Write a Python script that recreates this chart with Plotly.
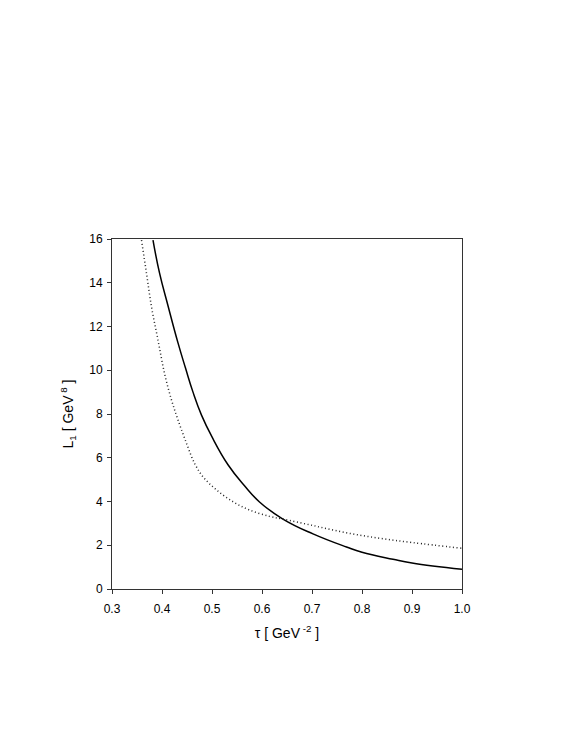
import plotly.graph_objects as go

# values
tau_solid = [0.382, 0.395, 0.412, 0.432, 0.447, 0.462, 0.479, 0.50, 0.532,
             0.565, 0.595, 0.641, 0.702, 0.769, 0.80, 0.862, 0.90, 1.00]
l1_solid = [15.95, 14.45, 12.95, 11.25, 10.1, 9.0, 7.95, 6.95, 5.68,
            4.72, 3.98, 3.21, 2.52, 1.92, 1.68, 1.36, 1.19, 0.90]

tau_dotted = [0.359, 0.369, 0.379, 0.392, 0.405, 0.419, 0.432, 0.449, 0.465,
              0.482, 0.509, 0.542, 0.575, 0.615, 0.641, 0.702, 0.769, 0.835,
              0.902, 1.00]
l1_dotted = [15.95, 14.43, 12.9, 11.38, 9.86, 8.64, 7.73, 6.66, 5.75,
             5.13, 4.53, 3.99, 3.61, 3.32, 3.2, 2.90, 2.57, 2.32,
             2.12, 1.86]

x_ticks = [0.3, 0.4, 0.5, 0.6, 0.7, 0.8, 0.9, 1.0]
x_tick_text = ["0.3", "0.4", "0.5", "0.6", "0.7", "0.8", "0.9", "1.0"]
y_ticks = [0, 2, 4, 6, 8, 10, 12, 14, 16]

FONT = "Liberation Sans, Arial"

fig = go.Figure()
fig.add_trace(go.Scatter(
    x=tau_solid, y=l1_solid, mode="lines",
    line=dict(color="black", width=1.5, shape="spline", smoothing=1.3),
    showlegend=False,
))
fig.add_trace(go.Scatter(
    x=tau_dotted, y=l1_dotted, mode="lines",
    line=dict(color="#222222", width=1.5, dash="1px,2.6px", shape="spline"),
    showlegend=False,
))

axis_style = dict(
    showline=True, linecolor="#333333", linewidth=1, mirror=True,
    ticks="outside", ticklen=4, tickcolor="#333333",
    showgrid=False, zeroline=False,
    tickfont=dict(family=FONT, size=12, color="black"),
)
fig.update_xaxes(
    range=[0.3, 1.0], tickvals=x_ticks, ticktext=x_tick_text,
    ticklabelstandoff=5,
    title=dict(text="τ [ GeV<sup> -2</sup> ]", standoff=12,
               font=dict(family=FONT, size=14, color="black")),
    **axis_style,
)
fig.update_yaxes(
    range=[0, 16], tickvals=y_ticks,
    ticklabelstandoff=2,
    title=dict(text="L<sub>1</sub> [ GeV<sup> 8</sup> ]", standoff=12,
               font=dict(family=FONT, size=14, color="black")),
    **axis_style,
)
fig.update_layout(
    width=575, height=747,
    margin=dict(l=104, r=121, t=231, b=166),
    plot_bgcolor="white", paper_bgcolor="white",
)
fig.write_html("out.html")
